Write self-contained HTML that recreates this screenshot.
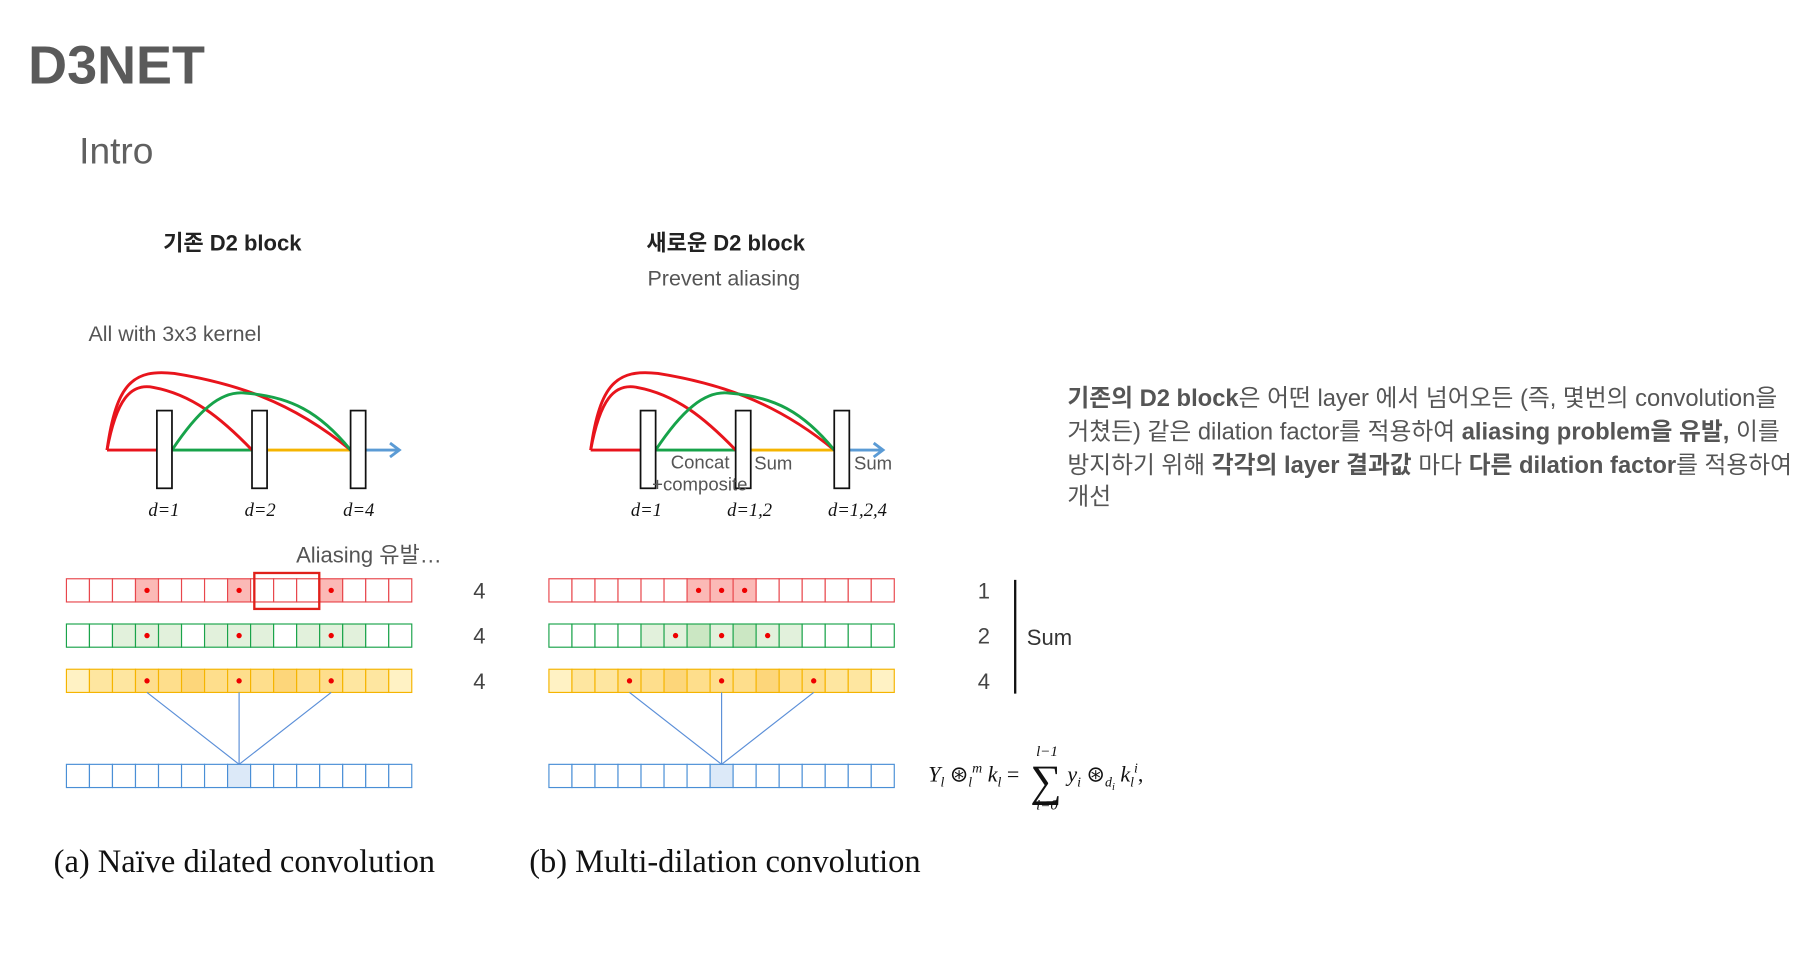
<!DOCTYPE html>
<html><head><meta charset="utf-8"><style>
html,body{margin:0;padding:0;background:#fff;}
svg{display:block;}
.s{font-family:"Liberation Sans","Noto Sans CJK KR",sans-serif;}
.r{font-family:"Liberation Serif",serif;}
</style></head><body>
<svg id="fig" width="1810" height="965" viewBox="0 0 1560 832" xmlns="http://www.w3.org/2000/svg">
<text class="s" x="24" y="72" font-size="46.5" font-weight="bold" fill="#5a5a5a">D3NET</text>
<text class="s" x="68" y="141" font-size="32" fill="#606060">Intro</text>
<text class="s" x="200" y="216" font-size="19" font-weight="bold" text-anchor="middle" fill="#222">기존 D2 block</text>
<text class="s" x="557" y="216" font-size="19" font-weight="bold" fill="#222">새로운 D2 block</text>
<text class="s" x="558" y="246" font-size="18.5" fill="#555">Prevent aliasing</text>
<text class="s" x="76" y="294" font-size="18.5" fill="#555">All with 3x3 kernel</text>
<text class="s" x="255" y="485" font-size="19" fill="#555">Aliasing 유발…</text>
<g id="diag"></g>
<g id="rows"></g>
<line x1="875" y1="500" x2="875" y2="598" stroke="#111" stroke-width="2"/>
<text class="s" x="885" y="556" font-size="19" fill="#333">Sum</text>
<g class="r" font-style="italic" fill="#111">
<text x="800" y="674" font-size="19">Y<tspan font-size="12" dy="4">l</tspan><tspan dy="-4" font-style="normal"> ⊛</tspan><tspan font-size="12" dy="4">l</tspan><tspan font-size="12" dy="-12">m</tspan><tspan dy="8"> k</tspan><tspan font-size="12" dy="4">l</tspan><tspan dy="-4" font-style="normal"> =</tspan></text>
<text x="893" y="652" font-size="13">l−1</text>
<text x="888" y="686" font-size="38" font-style="normal">∑</text>
<text x="893" y="698" font-size="13">i=0</text>
<text x="920" y="674" font-size="19">y<tspan font-size="12" dy="4">i</tspan><tspan dy="-4" font-style="normal"> ⊛</tspan><tspan font-size="12" dy="4">d</tspan><tspan font-size="9" dy="3">i</tspan><tspan dy="-7"> k</tspan><tspan font-size="12" dy="4">l</tspan><tspan font-size="12" dy="-12">i</tspan><tspan dy="8" font-style="normal">,</tspan></text>
</g>
<text class="r" x="46" y="752" font-size="28" fill="#111">(a) Naïve dilated convolution</text>
<text class="r" x="456" y="752" font-size="28" fill="#111">(b) Multi-dilation convolution</text>
<g class="s" font-size="20.5" fill="#555">
<text x="920" y="350"><tspan font-weight="bold">기존의 D2 block</tspan>은 어떤 layer 에서 넘어오든 (즉, 몇번의 convolution을</text>
<text x="920" y="379">거쳤든) 같은 dilation factor를 적용하여 <tspan font-weight="bold">aliasing problem을 유발,</tspan> 이를</text>
<text x="920" y="408">방지하기 위해 <tspan font-weight="bold">각각의 layer 결과값</tspan> 마다 <tspan font-weight="bold">다른 dilation factor</tspan>를 적용하여</text>
<text x="920" y="435">개선</text>
</g>
</svg>
<script>
const NS="http://www.w3.org/2000/svg";
const rowLabelsLeft=["4","4","4"];
const rowLabelsRight=["1","2","4"];
const dilLabelsLeft=["d=1","d=2","d=4"];
const dilLabelsRight=["d=1","d=1,2","d=1,2,4"];
const leftRedShade=[0,0,0,2,0,0,0,2,0,0,0,2,0,0,0];
const leftGreenShade=[0,0,1,1,1,0,1,1,1,0,1,1,1,0,0];
const leftYellowShade=[0,1,1,2,2,3,2,2,2,3,2,2,1,1,0];
const leftDots=[3,7,11];
const rightRedShade=[0,0,0,0,0,0,2,2,2,0,0,0,0,0,0];
const rightGreenShade=[0,0,0,0,1,1,2,1,2,1,1,0,0,0,0];
const rightYellowShade=[0,1,1,2,2,3,2,2,2,3,2,2,1,1,0];
const rightRedDots=[6,7,8];
const rightGreenDots=[5,7,9];
const rightYellowDots=[3,7,11];
const blueHighlight=7;
const nCells=15;
function mk(t,a,p){const e=document.createElementNS(NS,t);for(const k in a)e.setAttribute(k,a[k]);p.appendChild(e);return e;}
const rows=document.getElementById('rows');
const cellW=19.85, rowY=[499,538,577,659], rowH=20;
const pal={red:{s:"#e8474c",f:["#fff","#fde3e2","#fbb9b6"]},green:{s:"#1aa34a",f:["#fff","#e2f1dc","#cbe7c3"]},yellow:{s:"#f5b400",f:["#fff2c4","#fee6a0","#fede8c","#fdd67a"]},blue:{s:"#4a8fd6",f:["#fff","#dce9f8"]}};
const xCell=(x0,i)=>x0+i*cellW;
function drawRow(x0,y,color,shade,dots,name){
  const g=mk('g',{},rows);
  
  
  for(let i=0;i<nCells;i++){
    const r=mk('rect',{x:xCell(x0,i),y:y,width:cellW,height:rowH,fill:pal[color].f[shade[i]],stroke:pal[color].s,'stroke-width':1},g);
    
    
  }
  dots.forEach(i=>{const c=mk('circle',{cx:xCell(x0,i)+cellW/2,cy:y+rowH/2,r:2.3,fill:"#e00"},g);
    
    });
}
function drawPanel(x0,sh,dots,labels,lx){
  drawRow(x0,rowY[0],'red',sh[0],dots[0],'red-row');
  drawRow(x0,rowY[1],'green',sh[1],dots[1],'green-row');
  drawRow(x0,rowY[2],'yellow',sh[2],dots[2],'yellow-row');
  const bl=Array(nCells).fill(0);bl[blueHighlight]=1;
  drawRow(x0,rowY[3],'blue',bl,[],'output-row');
  const tx=xCell(x0,blueHighlight)+cellW/2;
  dots[2].forEach(i=>{const l=mk('line',{x1:xCell(x0,i)+cellW/2,y1:rowY[2]+rowH,x2:tx,y2:rowY[3],stroke:"#5b8fd8","stroke-width":1},rows);
    
    });
  labels.forEach((t,k)=>{const e=mk('text',{x:lx,y:rowY[k]+rowH/2+7,'font-size':19,fill:"#444",'text-anchor':'middle',class:'s'},rows);e.textContent=t;
    
    });
}
drawPanel(57,[leftRedShade,leftGreenShade,leftYellowShade],[leftDots,leftDots,leftDots],rowLabelsLeft,413);
drawPanel(473,[rightRedShade,rightGreenShade,rightYellowShade],[rightRedDots,rightGreenDots,rightYellowDots],rowLabelsRight,848);
const box=mk('rect',{x:219,y:494,width:56,height:31,fill:"none",stroke:"#e0201a","stroke-width":2},rows);


const diag=document.getElementById('diag');
function drawDiagram(o,labels,lxs){
  const y=388, bx=[135,217,302];
  mk('line',{x1:92+o,y1:y,x2:bx[0]+o,y2:y,stroke:"#e8141c","stroke-width":2.5},diag);
  mk('line',{x1:148+o,y1:y,x2:bx[1]+o,y2:y,stroke:"#17a34a","stroke-width":2.5},diag);
  mk('line',{x1:230+o,y1:y,x2:bx[2]+o,y2:y,stroke:"#f5b400","stroke-width":2.5},diag);
  mk('path',{d:`M${92+o} ${y} C${100+o} 330 ${115+o} 318 ${150+o} 322 C${200+o} 330 ${250+o} 345 ${302+o} ${y}`,fill:"none",stroke:"#e8141c","stroke-width":2.5},diag);
  mk('path',{d:`M${92+o} ${y} C${100+o} 345 ${112+o} 330 ${132+o} 334 C${165+o} 340 ${190+o} 360 ${217+o} ${y}`,fill:"none",stroke:"#e8141c","stroke-width":2.5},diag);
  mk('path',{d:`M${148+o} ${y} C${170+o} 355 ${190+o} 336 ${212+o} 339 C${250+o} 342 ${275+o} 355 ${302+o} ${y}`,fill:"none",stroke:"#17a34a","stroke-width":2.5},diag);
  mk('line',{x1:315+o,y1:y,x2:343+o,y2:y,stroke:"#5b9bd5","stroke-width":2.5},diag);
  mk('path',{d:`M${336+o} ${y-6} L${344+o} ${y} L${336+o} ${y+6}`,fill:"none",stroke:"#5b9bd5","stroke-width":2.5},diag);
  bx.forEach((x,k)=>{const r=mk('rect',{x:x+o,y:354,width:13,height:67,fill:"#fff",stroke:"#111","stroke-width":1.5},diag);
    
    
    const t=mk('text',{x:lxs[k]+o,y:445,'font-size':16,'font-style':'italic','text-anchor':'middle',class:'r',fill:"#111"},diag);t.textContent=labels[k];
    
    });
}
drawDiagram(0,dilLabelsLeft,[141,224,309]);
drawDiagram(417,dilLabelsRight,[140,229,322]);
[["Concat",578,404],["+composite",562,423],["Sum",650,405],["Sum",736,405]].forEach(a=>{
  const t=mk('text',{x:a[1],y:a[2],'font-size':16,fill:"#555",class:'s'},diag);t.textContent=a[0];
  
  });
</script>
</body></html>
